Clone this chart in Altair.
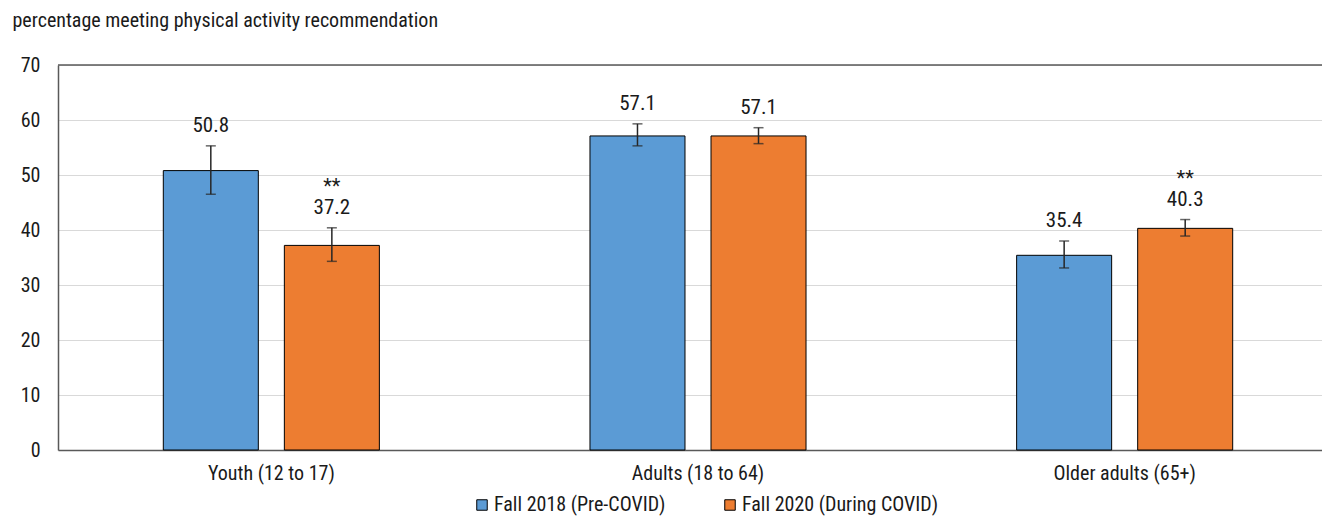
import altair as alt
import pandas as pd

FONT = "Roboto Condensed, Liberation Sans Narrow, Arial Narrow, sans-serif"

groups = ["Youth (12 to 17)", "Adults (18 to 64)", "Older adults (65+)"]
periods = ["Fall 2018 (Pre-COVID)", "Fall 2020 (During COVID)"]

values_2018 = [50.8, 57.1, 35.4]
values_2020 = [37.2, 57.1, 40.3]
lower_2018 = [46.5, 55.3, 33.1]
upper_2018 = [55.3, 59.3, 38.0]
lower_2020 = [34.3, 55.7, 38.9]
upper_2020 = [40.4, 58.6, 41.9]
stars_2018 = ["", "", ""]
stars_2020 = ["**", "", "**"]
y_ticks = [0, 10, 20, 30, 40, 50, 60, 70]

rows = []
for i, g in enumerate(groups):
    rows.append(dict(group=g, period=periods[0], value=values_2018[i],
                     lower=lower_2018[i], upper=upper_2018[i], star=stars_2018[i]))
    rows.append(dict(group=g, period=periods[1], value=values_2020[i],
                     lower=lower_2020[i], upper=upper_2020[i], star=stars_2020[i]))
df = pd.DataFrame(rows)

DARK = "#1a1a1a"
LINE = "#595959"

base = alt.Chart(df).encode(
    x=alt.X("group:N", sort=groups,
            scale=alt.Scale(paddingInner=0, paddingOuter=0, range=[0, 1280]),
            axis=alt.Axis(title=None, labelAngle=0, ticks=False, labelPadding=13,
                          labelFontSize=20, labelFont=FONT, labelColor=DARK,
                          domainColor=LINE, domainWidth=1.5)),
    xOffset=alt.XOffset("period:N", sort=periods,
                        scale=alt.Scale(paddingInner=0.215, paddingOuter=0.87)),
)

yscale = alt.Scale(domain=[0, 70])

bars = base.mark_bar(stroke="black", strokeWidth=1).encode(
    y=alt.Y("value:Q", scale=yscale,
            axis=alt.Axis(values=y_ticks, ticks=False,
                          domain=True, domainColor=LINE, domainWidth=1.5,
                          labelPadding=18, labelFontSize=20,
                          labelFont=FONT, labelColor=DARK,
                          gridColor="#d9d9d9",
                          title="percentage meeting physical activity recommendation",
                          titleAngle=0, titleAlign="left", titleX=-46, titleY=-39,
                          titleBaseline="alphabetic", titleFontSize=20,
                          titleFontWeight="normal", titleFont=FONT,
                          titleColor=DARK)),
    color=alt.Color("period:N", sort=periods,
                    scale=alt.Scale(domain=periods, range=["#5B9BD5", "#ED7D31"]),
                    legend=alt.Legend(title=None, orient="none", legendX=414, legendY=430,
                                      direction="horizontal", symbolType="square",
                                      symbolSize=110, symbolStrokeColor="black",
                                      symbolStrokeWidth=1, labelFontSize=20,
                                      labelFont=FONT, labelColor=DARK,
                                      columnPadding=54, labelOffset=2,
                                      labelLimit=400)),
)

top_line = alt.Chart(pd.DataFrame({"top": [max(y_ticks)]})).mark_rule(
    color=LINE, strokeWidth=1.5).encode(
    y=alt.Y("top:Q", scale=yscale),
    x=alt.value(0), x2=alt.value(1280))

rules = base.mark_rule(color="#262626", strokeWidth=1.5).encode(
    y=alt.Y("lower:Q", scale=yscale), y2="upper:Q")
cap_lo = base.mark_tick(color="#262626", thickness=1.5, size=10).encode(
    y=alt.Y("lower:Q", scale=yscale))
cap_hi = base.mark_tick(color="#262626", thickness=1.5, size=10).encode(
    y=alt.Y("upper:Q", scale=yscale))

labels = base.mark_text(dy=-14, baseline="alphabetic", fontSize=21, font=FONT,
                        color=DARK).encode(
    y=alt.Y("upper:Q", scale=yscale), text=alt.Text("value:Q", format=".1f"))
stars = base.mark_text(dy=-35, baseline="alphabetic", fontSize=20, font=FONT,
                       color=DARK).encode(
    y=alt.Y("upper:Q", scale=yscale), text="star:N")

chart = alt.layer(bars, top_line, rules, cap_lo, cap_hi, labels, stars).properties(
    width=1264, height=385,
    autosize=alt.AutoSizeParams(type="none"),
    padding={"left": 50, "top": 57, "right": 0, "bottom": 66},
).configure_view(stroke="transparent", strokeWidth=0)

chart.save("out.html", embed_options={"renderer": "svg", "actions": False})
